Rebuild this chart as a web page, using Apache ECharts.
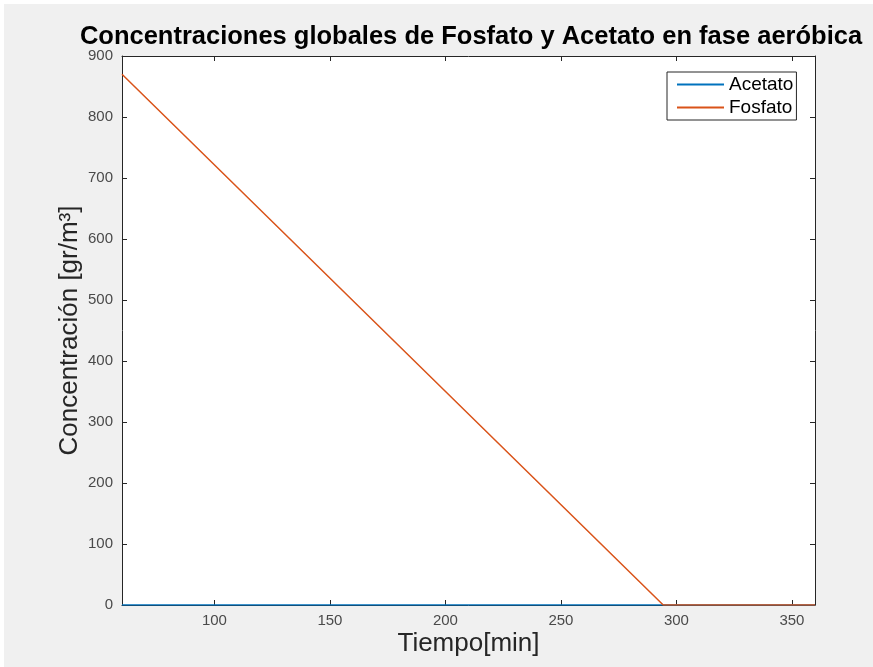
<!DOCTYPE html>
<html>
<head>
<meta charset="utf-8">
<script src="https://cdn.jsdelivr.net/npm/echarts@6/dist/echarts.min.js"></script>
<style>
html,body{margin:0;padding:0;background:#fff;}
#c{position:absolute;left:4px;top:4px;width:869px;height:663px;}
</style>
</head>
<body>
<div id="c"></div>
<script>
const tiempo = [60, 294.3, 360];
const fosfato = [870, 0, 0];
const acetato = [0, 0, 0];
const xTicks = [100, 150, 200, 250, 300, 350];
const yTicks = [0, 100, 200, 300, 400, 500, 600, 700, 800, 900];

const chart = echarts.init(document.getElementById('c'));
const font = 'Liberation Sans, Arial, Helvetica, sans-serif';
const axisCol = '#262626';
const lblCol = '#4a4a4a';

function pairs(xs, ys){ return xs.map((x,i)=>[x, ys[i]]); }

const baseX = {
  type: 'value', min: 60, max: 360,
  axisLine: {show: true, onZero: false, lineStyle: {color: axisCol, width: 1}},
  axisTick: {show: true, inside: true, length: 5, customValues: xTicks, lineStyle: {color: axisCol}},
  splitLine: {show: false}
};
const baseY = {
  type: 'value', min: 0, max: 900, interval: 100,
  axisLine: {show: true, onZero: false, lineStyle: {color: axisCol, width: 1}},
  axisTick: {show: true, inside: true, length: 5, customValues: yTicks, lineStyle: {color: axisCol}},
  splitLine: {show: false}
};

chart.setOption({
  backgroundColor: '#f0f0f0',
  animation: false,
  title: {
    text: 'Concentraciones globales de Fosfato y Acetato en fase aeróbica',
    left: 462, textAlign: 'center', top: 15,
    textStyle: {fontFamily: font, fontWeight: 'bold', fontSize: 25.5, color: '#000'}
  },
  grid: {left: 118, top: 52, width: 693, height: 549, show: true, backgroundColor: '#fff', borderWidth: 0},
  legend: {
    orient: 'vertical', left: 663, top: 68,
    backgroundColor: '#fff', borderColor: axisCol, borderWidth: 1,
    padding: [3, 3, 3, 10], itemGap: 4, itemWidth: 47, itemHeight: 2, icon: 'rect',
    textStyle: {fontFamily: font, fontSize: 19, color: '#000'},
    data: ['Acetato', 'Fosfato']
  },
  xAxis: [
    Object.assign({}, baseX, {
      position: 'bottom',
      name: 'Tiempo[min]', nameLocation: 'middle', nameGap: 26, nameMoveOverlap: false,
      nameTextStyle: {fontFamily: font, fontSize: 26, color: axisCol},
      axisLabel: {show: true, customValues: xTicks, margin: 8, fontFamily: font, fontSize: 15, color: lblCol}
    }),
    Object.assign({}, baseX, {position: 'top', axisLabel: {show: false}})
  ],
  yAxis: [
    Object.assign({}, baseY, {
      position: 'left',
      name: 'Concentración [gr/m³]', nameLocation: 'middle', nameGap: 39, nameMoveOverlap: false,
      nameTextStyle: {fontFamily: font, fontSize: 26, color: axisCol},
      axisLabel: {show: true, customValues: yTicks, margin: 9, fontFamily: font, fontSize: 15, color: lblCol}
    }),
    Object.assign({}, baseY, {position: 'right', axisLabel: {show: false}})
  ],
  series: [
    {name: 'Acetato', type: 'line', data: pairs(tiempo, acetato), symbol: 'none',
     color: '#0072BD', lineStyle: {width: 1.5, color: '#0072BD'}},
    {name: 'Fosfato', type: 'line', data: pairs(tiempo, fosfato), symbol: 'none',
     color: '#D95319', lineStyle: {width: 1.5, color: '#D95319'}}
  ]
});
</script>
</body>
</html>
